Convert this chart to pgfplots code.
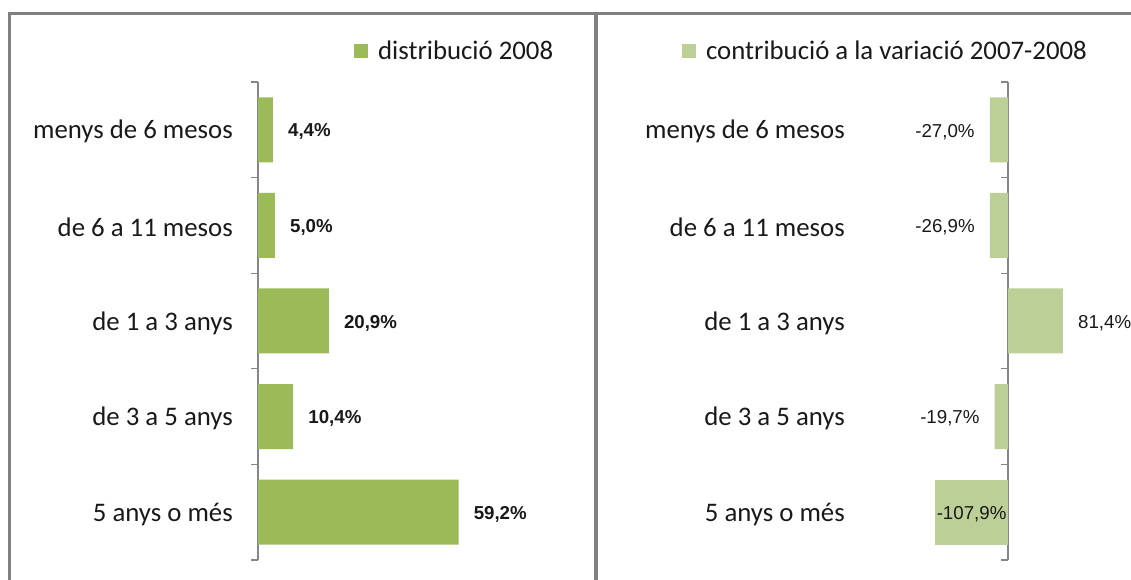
\documentclass[border=0pt]{standalone}
\usepackage{pgfplots}
\pgfplotsset{compat=1.18}
\usepackage{fontspec}
\setmainfont{Carlito}
\newfontfamily\labfont{Liberation Sans}
\definecolor{olive}{RGB}{155,187,89}
\definecolor{olivelt}{RGB}{187,207,151}
\definecolor{axgray}{RGB}{134,134,134}
\definecolor{framegray}{RGB}{128,128,128}
\definecolor{ink}{RGB}{25,25,25}
\newcommand\catfont{\fontsize{26.8bp}{31bp}\selectfont}
\newcommand\valfont{\labfont\fontsize{18.7bp}{22bp}\selectfont}
\pgfplotsset{
  panel/.style={scale only axis,height=478bp,ymin=-0.5,ymax=4.5,clip=false,
    axis x line=none,xtick=\empty,
    ytick={0,...,4},
    yticklabels={5 anys o més,de 3 a 5 anys,de 1 a 3 anys,de 6 a 11 mesos,menys de 6 mesos},
    minor ytick={-0.5,0.5,...,4.5},
    major tick length=0pt,minor tick length=7bp,tick align=outside,
    tick style={axgray,line width=1.3bp},
    y axis line style={draw=axgray,line width=1.3bp,-},
    yticklabel style={anchor=east,inner sep=0pt,font=\catfont,text=ink,yshift=-2bp},
    xbar,bar width=65bp,bar shift=0pt,
    point meta=x,
    /pgf/number format/assume math mode=true,
    nodes near coords={\pgfmathprintnumber[fixed,fixed zerofill,precision=1,use comma]{\pgfplotspointmeta}\%},
    nodes near coords align=horizontal,
    every node near coord/.append style={font=\valfont,text=ink,inner xsep=15bp,yshift=-2bp},
    legend image code/.code={\fill[##1] (0bp,-7bp) rectangle (14bp,7bp);\path (22bp,0bp);},
    legend style={draw=none,fill=none,anchor=west,inner sep=0pt,font=\catfont,text=ink},
  },
}
\begin{document}
\begin{tikzpicture}
\useasboundingbox (0,0) rectangle (1131bp,580bp);
\clip (0,0) rectangle (1131bp,580bp);
\draw[framegray,line width=2.6bp] (9.5bp,-5bp) -- (9.5bp,566.5bp) -- (1140bp,566.5bp);
\draw[framegray,line width=4.5bp] (596bp,-5bp) -- (596bp,566.5bp);

\begin{axis}[panel,at={(258bp,20bp)},anchor=south west,width=332bp,
  xmin=0,xmax=98,axis y line*=left,
  yticklabel style={xshift=-25bp},
  every node near coord/.append style={font=\valfont\bfseries},
  legend style={at={(axis description cs:0.289,1.065)}}]
\addplot[fill=olive,draw=none] coordinates {(59.2,0) (10.4,1) (20.9,2) (5.0,3) (4.4,4)};
\legend{distribució 2008}
\end{axis}

\begin{axis}[panel,at={(873bp,20bp)},anchor=south west,width=256.5bp,
  xmin=-200,xmax=180,axis y line*=middle,
  yticklabel style={xshift=-163bp},
  legend style={at={(axis description cs:-0.745,1.065)}}]
\addplot[fill=olivelt,draw=none] coordinates {(-19.7,1) (81.4,2) (-26.9,3) (-27.0,4)};
\addplot[fill=olivelt,draw=none,
  every node near coord/.append style={anchor=center,xshift=36.4bp,inner xsep=0pt}]
  coordinates {(-107.9,0)};
\legend{contribució a la variació 2007-2008}
\end{axis}
\end{tikzpicture}
\end{document}
